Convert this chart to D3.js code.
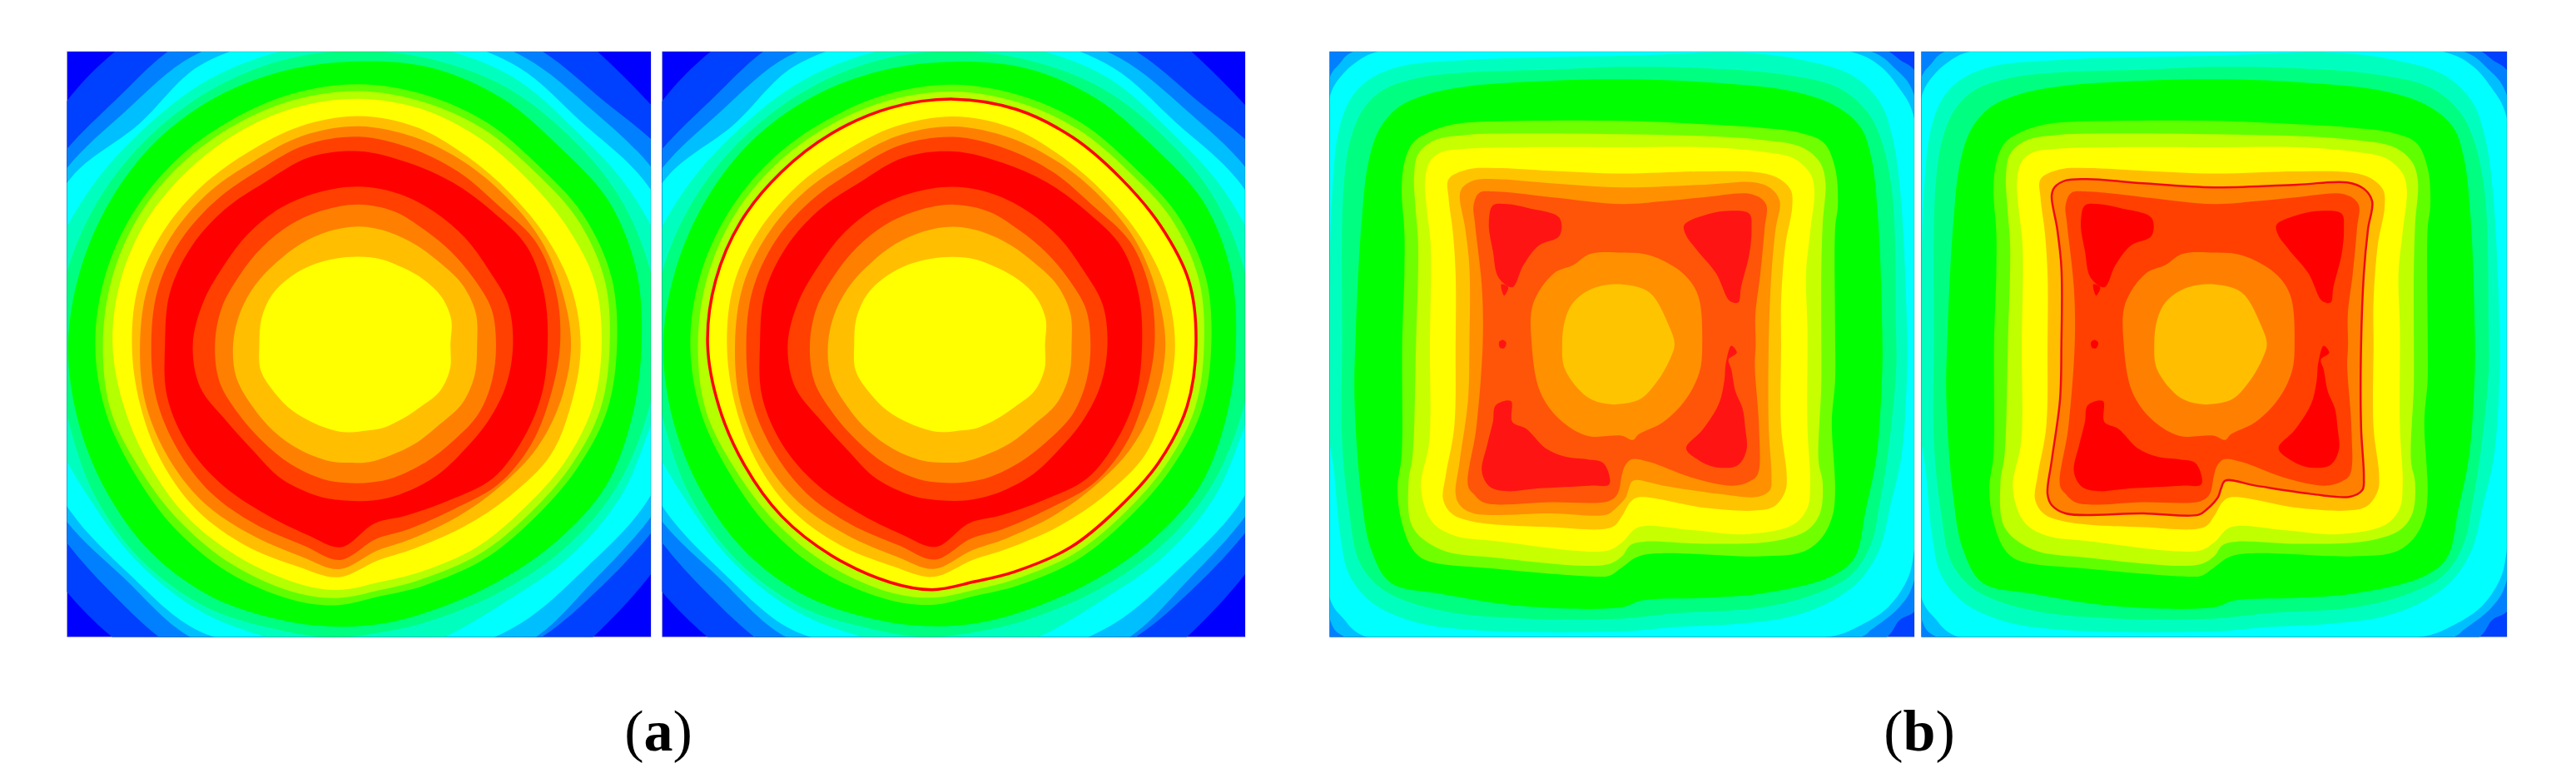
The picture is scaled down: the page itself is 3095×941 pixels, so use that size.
<!DOCTYPE html>
<html><head><meta charset="utf-8">
<script src="https://cdn.jsdelivr.net/npm/d3@7/dist/d3.min.js"></script>
<style>html,body{margin:0;background:#fff}svg{display:block}</style></head>
<body><svg id="c" width="3095" height="941"></svg>
<script>
// Circular field (a): isoline radius by bearing, outermost level first
const bearingsA=[0,15,30,45,60,75,90,105,120,135,150,165,175,185,195,210,225,240,255,270,285,300,315,330,345];
const a01=[950,950,945,934,945,950,950,950,925,924,940,950,950,950,950,950,950,950,950,950,950,940,945,945,950];
const a02=[830,840,857,856,900,910,915,900,867,850,856,840,825,825,850,880,870,880,900,915,900,878,855,868,840];
const a03=[800,810,822,820,850,870,880,870,842,826,849,830,815,815,815,838,822,850,870,880,870,848,818,825,805];
const a04=[780,788,793,780,815,840,860,830,812,790,800,800,790,790,790,815,806,827,845,860,840,825,772,796,785];
const a05=[750,760,765,755,772,790,800,752,751,742,735,759,770,770,762,770,770,770,790,800,790,770,755,755,752];
const a06=[728,730,735,734,742,745,745,735,730,718,707,708,716,730,735,754,760,755,745,748,745,738,732,730,730];
const a07=[702,709,706,698,714,712,701,701,706,692,682,685,695,703,710,725,730,725,722,721,715,712,712,708,703];
const a08=[645,640,635,628,642,648,640,637,622,612,617,620,627,650,655,652,646,642,650,654,652,648,644,640,643];
const a09=[628,622,617,611,624,630,622,620,606,596,600,603,612,632,636,630,625,625,637,635,634,632,628,625,627];
const a10=[609,604,593,585,592,605,602,600,588,577,582,585,592,612,612,606,604,600,603,611,612,610,605,605,608];
const a11=[566,557,538,530,535,545,550,547,549,531,522,525,538,580,572,573,575,569,563,563,566,560,553,550,560];
const a12=[541,532,522,517,520,521,526,520,511,497,493,500,514,560,546,543,550,550,549,543,543,537,530,524,536];
const a13=[515,503,494,488,507,506,499,492,494,490,472,475,485,537,518,515,520,520,520,515,517,512,503,498,512];
const a14=[479,467,464,467,482,476,468,470,470,470,447,441,446,505,490,481,487,493,493,481,486,481,472,465,480];
const a15=[391,386,378,373,371,383,382,379,373,370,379,386,389,389,390,385,372,380,408,412,400,388,388,390,390];
const a16=[347,341,327,324,328,340,340,342,343,335,336,342,344,345,346,342,339,345,358,357,352,342,340,342,344];
const a17=[292,288,284,285,296,300,293,297,295,282,283,287,293,295,299,300,302,306,315,312,305,296,288,288,290];
const a18=[217,218,219,227,236,237,227,234,232,218,214,216,215,219,222,225,233,241,252,247,250,248,238,228,220];
const levelsA=[a01,a02,a03,a04,a05,a06,a07,a08,a09,a10,a11,a12,a13,a14,a15,a16,a17,a18];

// Square field (b): isolines as [x,y] on the 0..2112 plate, outermost level first
const b01=[[1056,-80],[1996,-10],[2060,30],[2120,80],[2200,1056],[2120,2010],[2060,2050],[2000,2120],[1056,2200],[-40,2150],[-80,1056],[-40,-40]];
const b02=[[85,0],[1056,-60],[1956,0],[2041,60],[2109,150],[2170,1056],[2109,1916],[2056,2006],[1956,2086],[1926,2109],[1056,2170],[50,2109],[0,2046],[-60,1056],[0,95],[35,45]];
const b03=[[175,0],[1056,-40],[1881,0],[1986,50],[2056,130],[2109,230],[2150,1056],[2109,1816],[2086,1906],[2016,2006],[1906,2076],[1816,2109],[1056,2140],[125,2109],[50,2046],[0,1971],[-50,1056],[0,165],[40,90],[100,35]];
const b04=[[0,800],[10,500],[30,300],[70,180],[130,110],[250,55],[500,30],[1056,15],[1506,5],[1706,30],[1886,85],[1986,180],[2031,300],[2061,500],[2086,1000],[2086,1156],[2066,1456],[2026,1636],[1986,1796],[1916,1906],[1806,1986],[1656,2041],[1456,2066],[1256,2076],[1056,2092],[500,2086],[300,2056],[150,1986],[70,1886],[40,1756],[15,1506],[-5,1356]];
const b05=[[50,500],[75,320],[120,210],[190,140],[320,95],[500,75],[800,65],[1056,55],[1356,60],[1656,85],[1836,130],[1936,210],[1986,300],[2031,500],[2046,1000],[2046,1156],[2016,1456],[1986,1636],[1956,1776],[1886,1886],[1756,1956],[1556,2006],[1256,2026],[1056,2046],[700,2046],[400,2016],[200,1946],[110,1846],[70,1656],[45,1406],[45,1056]];
const b06=[[95,1000],[115,620],[140,400],[180,280],[250,200],[350,155],[500,125],[800,105],[1056,100],[1356,110],[1656,140],[1816,190],[1916,270],[1956,380],[1981,600],[1996,1000],[1996,1156],[1976,1456],[1936,1656],[1896,1826],[1806,1896],[1556,1956],[1356,1971],[1126,1981],[1056,2005],[700,2001],[400,1956],[220,1916],[150,1796],[115,1606],[90,1256]];
const b07=[[262,1056],[270,800],[270,650],[260,500],[270,400],[300,330],[350,295],[450,262],[700,250],[1056,250],[1356,262],[1556,275],[1706,295],[1786,330],[1826,420],[1836,550],[1826,640],[1826,1000],[1826,1186],[1814,1336],[1826,1586],[1816,1676],[1776,1756],[1706,1806],[1556,1821],[1126,1818],[1056,1861],[1010,1891],[960,1894],[600,1866],[350,1836],[300,1796],[260,1696],[245,1576],[260,1456]];
const b08=[[312,1056],[320,700],[310,560],[305,450],[320,370],[380,320],[500,300],[700,295],[1056,298],[1356,305],[1556,318],[1706,345],[1771,400],[1791,470],[1781,620],[1776,800],[1776,1000],[1776,1206],[1766,1476],[1781,1556],[1771,1666],[1726,1726],[1606,1766],[1356,1776],[1136,1768],[1086,1781],[1056,1821],[1000,1851],[600,1826],[400,1796],[300,1716],[285,1556],[300,1456]];
const b09=[[362,1056],[365,700],[350,560],[345,470],[360,400],[400,365],[500,350],[700,345],[1056,345],[1356,345],[1556,360],[1676,385],[1736,440],[1751,500],[1736,650],[1721,800],[1726,1000],[1726,1356],[1736,1556],[1726,1646],[1676,1706],[1506,1741],[1306,1726],[1116,1716],[1056,1771],[1000,1801],[600,1766],[450,1746],[370,1696],[330,1576],[360,1406]];
const b10=[[455,1056],[455,800],[445,650],[430,530],[430,460],[500,425],[600,420],[800,430],[1056,440],[1356,432],[1556,437],[1626,460],[1666,500],[1671,560],[1646,700],[1631,900],[1631,1056],[1631,1356],[1651,1526],[1646,1586],[1606,1641],[1536,1656],[1356,1646],[1116,1608],[1086,1626],[1056,1676],[1020,1716],[800,1716],[520,1696],[440,1666],[410,1616],[420,1526],[450,1356]];
const b11=[[505,1056],[505,780],[490,640],[470,520],[480,490],[520,465],[600,460],[800,475],[1056,490],[1356,480],[1536,472],[1596,495],[1626,540],[1611,640],[1596,800],[1586,1056],[1586,1356],[1596,1536],[1591,1581],[1546,1606],[1406,1596],[1206,1566],[1096,1548],[1081,1576],[1071,1606],[1056,1626],[1030,1651],[1000,1671],[800,1666],[520,1666],[470,1636],[455,1596],[470,1476],[500,1256]];
const b12=[[553,1056],[550,850],[525,620],[520,555],[540,510],[600,505],[800,525],[1056,550],[1206,540],[1356,525],[1526,515],[1576,550],[1571,640],[1556,800],[1538,950],[1539,1056],[1536,1136],[1551,1356],[1546,1526],[1516,1551],[1456,1566],[1306,1536],[1156,1481],[1091,1471],[1066,1496],[1056,1526],[1040,1596],[1010,1621],[800,1626],[560,1628],[520,1596],[500,1566],[530,1356]];
const islandNW=[[590,555],[640,550],[720,565],[830,600],[830,665],[755,700],[700,770],[660,850],[610,815],[590,720],[575,620]];
const islandNWtip=[[620,840],[645,850],[630,880]];
const islandNE=[[1281,625],[1356,590],[1436,575],[1516,585],[1524,640],[1516,730],[1486,850],[1476,905],[1446,900],[1396,800],[1326,715],[1286,660]];
const islandSW=[[600,1276],[655,1261],[660,1336],[710,1361],[780,1431],[850,1461],[930,1471],[990,1486],[1010,1561],[940,1566],[750,1576],[640,1586],[580,1571],[550,1516],[570,1416],[590,1336]];
const islandSE=[[1451,1061],[1471,1086],[1441,1111],[1451,1146],[1466,1226],[1491,1286],[1501,1356],[1506,1436],[1476,1491],[1406,1501],[1336,1476],[1288,1431],[1346,1366],[1406,1271],[1426,1186],[1431,1126]];
const islandDot=[[612,1048],[625,1040],[638,1050],[630,1070],[615,1068]];
const b13=[[730,1056],[735,910],[810,800],[880,770],[940,730],[1056,725],[1156,735],[1276,800],[1331,880],[1346,1056],[1336,1156],[1286,1256],[1206,1336],[1116,1381],[1096,1401],[1056,1386],[930,1386],[830,1326],[760,1226]];
const b14=[[840,1056],[850,970],[880,905],[950,855],[1056,840],[1156,870],[1226,990],[1246,1056],[1231,1106],[1186,1186],[1126,1251],[1056,1271],[1000,1271],[930,1246],[850,1146]];
const levelsB=[b01,b02,b03,b04,b05,b06,b07,b08,b09,b10,b11,b12];
const islandsB=[islandNW,islandNWtip,islandNE,islandSW,islandSE,islandDot];
const innerB=[b13,b14];

const captions=["a","b"];
const paletteA=["#0040ff","#0080ff","#00bfff","#00ffff","#00ffbf","#00ff80","#00ff00","#60ff00","#b4ff00","#ffff00","#ffbf00","#ff8000","#ff4000","#ff0000","#ff4000","#ff8000","#ffbf00","#ffff00"];
const paletteB=["#0040ff","#0080ff","#00bfff","#00ffff","#00ffbf","#00ff80","#00ff00","#70ff00","#c8ff00","#ffff00","#ffc400","#ff9000","#ff5508","#ff1414","#ff9000","#ffc400"];
const paletteBpure=["#0040ff","#0080ff","#00bfff","#00ffff","#00ffbf","#00ff80","#00ff00","#60ff00","#c0ff00","#ffff00","#ffbf00","#ff8000","#ff4000","#ff0000","#ff8000","#ffbf00"];

const svg=d3.select("#c");
const plates=[
 {x0:80.5,x1:782,kind:"a",pal:paletteA,line:null},
 {x0:795.5,x1:1496,kind:"a",pal:paletteA,line:a10,lw:3.5},
 {x0:1597.5,x1:2300,kind:"b",pal:paletteB,line:null},
 {x0:2308.5,x1:3012,kind:"b",pal:paletteBpure,line:b11,lw:2.5}
];
const y0=62,y1=765.5;
const curve=d3.curveCatmullRomClosed.alpha(.5);
plates.forEach((p,i)=>{
  const id="clip"+i;
  svg.append("clipPath").attr("id",id).append("rect").attr("x",p.x0).attr("y",y0).attr("width",p.x1-p.x0).attr("height",y1-y0);
  const g=svg.append("g").attr("clip-path",`url(#${id})`);
  g.append("rect").attr("x",p.x0).attr("y",y0).attr("width",p.x1-p.x0).attr("height",y1-y0).attr("fill",p.kind==="a"?"#0000ff":p.pal[0]);
  if(p.kind==="a"){
    const r=d3.scaleLinear().domain([0,724]).range([0,(p.x1-p.x0)/2]);
    const th=d3.scaleLinear().domain([0,360]).range([0,2*Math.PI]);
    const ring=d3.lineRadial().angle((d,k)=>th(bearingsA[k])).radius(d=>r(d)).curve(curve);
    const c=g.append("g").attr("transform",`translate(${(p.x0+p.x1)/2},${(y0+y1)/2})`);
    levelsA.forEach((lv,k)=>c.append("path").attr("d",ring(lv)).attr("fill",p.pal[k]));
    if(p.line) c.append("path").attr("d",ring(p.line)).attr("fill","none").attr("stroke","#ff0000").attr("stroke-width",p.lw);
  } else {
    const x=d3.scaleLinear().domain([0,2112]).range([p.x0,p.x1]);
    const y=d3.scaleLinear().domain([0,2112]).range([y0,y1]);
    const ring=d3.line().x(d=>x(d[0])).y(d=>y(d[1])).curve(curve);
    levelsB.forEach((lv,k)=>g.append("path").attr("d",ring(lv)).attr("fill",p.pal[k+1]));
    islandsB.forEach(lv=>g.append("path").attr("d",ring(lv)).attr("fill",p.pal[13]));
    innerB.forEach((lv,k)=>g.append("path").attr("d",ring(lv)).attr("fill",p.pal[14+k]));
    if(p.line) g.append("path").attr("d",ring(p.line)).attr("fill","none").attr("stroke","#f00a14").attr("stroke-width",p.lw);
  }
  svg.append("rect").attr("x",p.x0).attr("y",y0).attr("width",p.x1-p.x0).attr("height",y1-y0).attr("fill","none").attr("stroke","#000").attr("stroke-opacity",.18).attr("stroke-width",1);
});
const capX=d3.scalePoint().domain(captions).range([791,2306]);
captions.forEach(c=>{
  const t=svg.append("text").attr("x",capX(c)).attr("y",902).attr("text-anchor","middle")
    .attr("font-family","Liberation Serif").attr("font-size",70).attr("fill","#000");
  t.append("tspan").text("(");
  t.append("tspan").attr("font-weight","bold").text(c);
  t.append("tspan").text(")");
});
</script></body></html>
